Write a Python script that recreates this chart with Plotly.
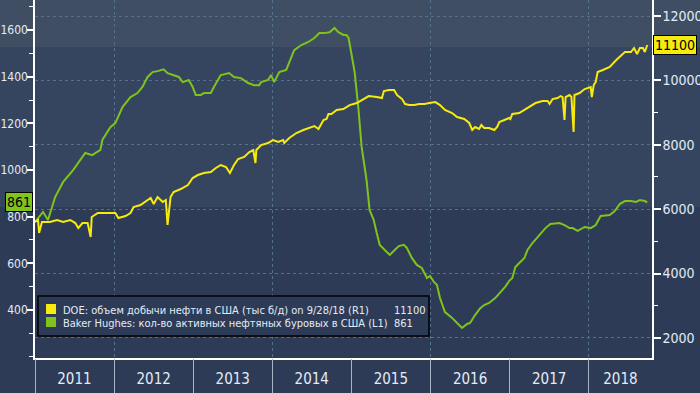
import plotly.graph_objects as go
from datetime import date

# ---------------- data ----------------
doe_name = "DOE: объем добычи нефти в США (тыс б/д) on 9/28/18 (R1)"
bh_name = "Baker Hughes: кол-во активных нефтяных буровых в США (L1)"
doe_last = 11100
bh_last = 861

bh_dates = [
    "2011-01-01", "2011-02-07", "2011-03-02", "2011-04-04", "2011-05-11", "2011-06-26",
    "2011-08-21", "2011-09-22", "2011-10-30", "2011-11-08", "2011-12-15", "2012-01-07",
    "2012-02-09", "2012-03-17", "2012-04-18", "2012-05-11", "2012-06-04", "2012-06-27",
    "2012-07-25", "2012-08-17", "2012-09-04", "2012-10-02", "2012-10-26", "2012-11-13",
    "2012-12-11", "2012-12-29", "2013-01-12", "2013-02-05", "2013-02-19", "2013-03-23",
    "2013-04-06", "2013-05-08", "2013-06-15", "2013-07-08", "2013-08-09", "2013-09-11",
    "2013-10-09", "2013-11-01", "2013-11-10", "2013-12-12", "2013-12-26", "2014-01-09",
    "2014-02-02", "2014-03-06", "2014-03-29", "2014-04-12", "2014-05-15", "2014-06-16",
    "2014-07-14", "2014-08-06", "2014-08-29", "2014-09-22", "2014-10-15", "2014-11-02",
    "2014-11-25", "2014-12-09", "2014-12-19", "2015-01-02", "2015-01-16", "2015-02-03",
    "2015-02-17", "2015-03-03", "2015-03-12", "2015-03-26", "2015-04-14", "2015-04-28",
    "2015-05-12", "2015-06-04", "2015-06-27", "2015-07-20", "2015-08-08", "2015-08-31",
    "2015-09-14", "2015-10-07", "2015-10-30", "2015-11-22", "2015-12-16", "2015-12-30",
    "2016-01-17", "2016-01-31", "2016-02-14", "2016-03-08", "2016-04-10", "2016-05-03",
    "2016-05-26", "2016-06-18", "2016-07-02", "2016-07-25", "2016-08-18", "2016-09-05",
    "2016-09-28", "2016-10-26", "2016-11-18", "2016-12-12", "2016-12-30", "2017-01-13",
    "2017-01-27", "2017-02-14", "2017-03-10", "2017-03-24", "2017-04-16", "2017-05-18",
    "2017-06-15", "2017-07-08", "2017-08-19", "2017-09-11", "2017-10-04", "2017-10-18",
    "2017-11-11", "2017-12-13", "2018-01-10", "2018-02-02", "2018-02-25", "2018-04-08",
    "2018-05-01", "2018-05-24", "2018-06-17", "2018-07-15", "2018-08-07", "2018-08-25",
    "2018-09-17", "2018-09-28",
]
bh_values = [
    777, 820, 786, 884, 949, 1000,
    1073, 1064, 1086, 1129, 1184, 1201,
    1270, 1313, 1330, 1356, 1399, 1420,
    1425, 1432, 1415, 1407, 1399, 1377,
    1386, 1356, 1322, 1322, 1330, 1330,
    1356, 1407, 1416, 1399, 1394, 1373,
    1364, 1364, 1377, 1386, 1407, 1377,
    1420, 1429, 1480, 1514, 1536, 1549,
    1566, 1587, 1587, 1591, 1609, 1591,
    1579, 1579, 1566, 1501, 1420, 1257,
    1100, 1013, 957, 829, 786, 730,
    679, 657, 636, 657, 674, 679,
    666, 623, 593, 580, 537, 546,
    520, 507, 451, 391, 366, 344,
    323, 340, 344, 378, 408, 421,
    430, 451, 473, 500, 525, 537,
    584, 601, 623, 657, 687, 721,
    751, 769, 773, 764, 751, 751,
    739, 756, 751, 764, 803, 807,
    824, 854, 867, 867, 863, 871,
    867, 861,
]

doe_dates = [
    "2011-01-01", "2011-01-15", "2011-01-20", "2011-02-02", "2011-03-11", "2011-04-13",
    "2011-05-11", "2011-06-13", "2011-07-06", "2011-07-20", "2011-08-08", "2011-09-01",
    "2011-09-15", "2011-09-20", "2011-10-18", "2011-11-08", "2011-12-09", "2012-01-07",
    "2012-01-21", "2012-02-23", "2012-03-17", "2012-03-31", "2012-05-02", "2012-05-25",
    "2012-06-18", "2012-07-02", "2012-07-20", "2012-08-13", "2012-08-27", "2012-09-04",
    "2012-09-18", "2012-10-02", "2012-11-04", "2012-12-07", "2012-12-29", "2013-01-22",
    "2013-02-19", "2013-03-23", "2013-04-15", "2013-05-08", "2013-06-01", "2013-06-19",
    "2013-07-08", "2013-07-27", "2013-08-24", "2013-09-17", "2013-10-05", "2013-10-15",
    "2013-10-19", "2013-11-10", "2013-12-12", "2014-01-04", "2014-01-28", "2014-02-20",
    "2014-02-25", "2014-03-20", "2014-04-22", "2014-05-24", "2014-06-16", "2014-07-14",
    "2014-08-02", "2014-08-25", "2014-09-08", "2014-09-17", "2014-10-01", "2014-10-25",
    "2014-11-25", "2014-12-24", "2015-01-26", "2015-02-27", "2015-03-22", "2015-04-28",
    "2015-05-22", "2015-05-31", "2015-06-23", "2015-07-17", "2015-07-31", "2015-08-23",
    "2015-09-06", "2015-09-25", "2015-10-18", "2015-11-10", "2015-12-04", "2015-12-27",
    "2016-01-24", "2016-02-14", "2016-03-08", "2016-04-10", "2016-05-03", "2016-06-05",
    "2016-06-28", "2016-07-12", "2016-07-25", "2016-08-13", "2016-08-23", "2016-09-05",
    "2016-09-28", "2016-10-22", "2016-11-04", "2016-11-14", "2016-12-07", "2016-12-30",
    "2017-01-04", "2017-01-13", "2017-02-14", "2017-03-10", "2017-04-02", "2017-04-30",
    "2017-06-02", "2017-06-25", "2017-07-04", "2017-07-18", "2017-08-10", "2017-08-24",
    "2017-09-02", "2017-09-11", "2017-09-16", "2017-10-04", "2017-10-13", "2017-10-23",
    "2017-10-27", "2017-11-20", "2017-12-13", "2018-01-05", "2018-01-10", "2018-01-15",
    "2018-01-24", "2018-02-02", "2018-02-11", "2018-03-07", "2018-04-08", "2018-05-08",
    "2018-06-17", "2018-07-15", "2018-07-29", "2018-08-12", "2018-08-25", "2018-09-08",
    "2018-09-17", "2018-09-28",
]
doe_values = [
    5602, 5664, 5260, 5602, 5602, 5664,
    5602, 5664, 5570, 5415, 5570, 5570,
    5136, 5757, 5881, 5881, 5881, 5881,
    5726, 5788, 5881, 6068, 6130, 6223,
    6347, 6161, 6378, 6223, 6285, 5509,
    6378, 6533, 6627, 6751, 6968, 7061,
    7124, 7155, 7279, 7372, 7310, 7124,
    7372, 7558, 7621, 7776, 7838, 7434,
    7838, 7993, 8055, 8148, 8086, 8148,
    8055, 8210, 8366, 8459, 8521, 8583,
    8490, 8770, 8800, 8955, 8955, 9080,
    9110, 9234, 9296, 9420, 9514, 9482,
    9451, 9669, 9700, 9700, 9545, 9420,
    9265, 9234, 9234, 9265, 9265, 9296,
    9327, 9234, 9080, 8987, 8863, 8800,
    8677, 8459, 8552, 8490, 8614, 8521,
    8521, 8459, 8552, 8707, 8770, 8832,
    8800, 8956, 8987, 9080, 9172, 9297,
    9358, 9358, 9267, 9420, 9451, 9514,
    9483, 8770, 9483, 9545, 9483, 8397,
    9545, 9607, 9731, 9793, 9793, 9483,
    9855, 9950, 10261, 10323, 10416, 10633,
    10882, 10882, 11006, 10820, 11006, 11006,
    10882, 11100,
]

year_labels = ["2011", "2012", "2013", "2014", "2015", "2016", "2017", "2018"]
left_ticks = [400, 600, 800, 1000, 1200, 1400, 1600]
right_ticks = [2000, 4000, 6000, 8000, 10000, 12000]

# ---------------- styling ----------------
X_START = "2011-01-01"
X_END = "2018-10-20"
LEFT_RANGE = [194, 1729]
RIGHT_RANGE = [1378, 12497]

BG_DARK = "#2d3b57"
BG_MID = "#354560"
BG_TOP = "#3f4e62"
YELLOW = "#f7ea0d"
GREEN = "#7fc31c"
TXT = "#e4ebf5"
GRID = "#56708c"
NARROW = "Liberation Sans Narrow, Arial Narrow, DejaVu Sans Condensed, sans-serif"
LEGFONT = "DejaVu Sans Condensed, Liberation Sans, sans-serif"

fig = go.Figure()
fig.add_trace(go.Scatter(x=bh_dates, y=bh_values, mode="lines", name=bh_name,
                         line=dict(color=GREEN, width=2), yaxis="y", xaxis="x",
                         showlegend=False, hoverinfo="skip"))
fig.add_trace(go.Scatter(x=doe_dates, y=doe_values, mode="lines", name=doe_name,
                         line=dict(color=YELLOW, width=2), yaxis="y2", xaxis="x",
                         showlegend=False, hoverinfo="skip"))
# invisible helpers so the overlay axes (year separators / gridlines) get drawn
for ax in ("x2", "x3"):
    fig.add_trace(go.Scatter(x=[X_START, X_END], y=[LEFT_RANGE[0], LEFT_RANGE[0]],
                             xaxis=ax, yaxis="y", mode="lines", line=dict(width=0),
                             opacity=0, showlegend=False, hoverinfo="skip"))

# year label positions: middle of the visible part of each year
end_d = date.fromisoformat(X_END)
label_pos = []
for y in year_labels:
    a = date(int(y), 1, 1)
    b = min(date(int(y) + 1, 1, 1), end_d)
    label_pos.append((a + (b - a) / 2).isoformat())

common_x = dict(type="date", range=[X_START, X_END], fixedrange=True, automargin=False)
fig.update_layout(
    width=700, height=393,
    margin=dict(l=35, r=48, t=0, b=35, autoexpand=False),
    paper_bgcolor=BG_DARK, plot_bgcolor="rgba(0,0,0,0)",
    showlegend=False,
    xaxis=dict(**common_x, tickvals=label_pos, ticktext=year_labels, ticks="",
               showgrid=False, showline=True, linecolor="#ffffff", linewidth=1.5,
               tickfont=dict(family=NARROW, size=15, color=TXT),
               ticklabelstandoff=6, zeroline=False),
    xaxis2=dict(**common_x, overlaying="x", anchor="y", side="bottom",
                dtick="M12", tick0=X_START, ticks="outside", ticklen=36,
                tickcolor="#a8b3c4", tickwidth=1, showticklabels=False,
                showgrid=False, showline=False, zeroline=False),
    xaxis3=dict(**common_x, overlaying="x", anchor="y", side="bottom",
                dtick="M24", tick0="2012-01-01", ticks="", showticklabels=False,
                showgrid=True, gridcolor=GRID, gridwidth=1, griddash="3px,3px",
                showline=False, zeroline=False),
    yaxis=dict(range=LEFT_RANGE, tickvals=left_ticks, tickformat="d",
               showgrid=False, zeroline=False,
               showline=True, linecolor="#ffffff", linewidth=1.5, automargin=False,
               ticks="outside", ticklen=6, tickwidth=2, tickcolor="#ffffff",
               ticklabelstandoff=-3,
               minor=dict(ticks="outside", ticklen=4, tickcolor="#ffffff", dtick=100, tickwidth=1),
               tickfont=dict(family=NARROW, size=12, color=TXT), fixedrange=True),
    yaxis2=dict(range=RIGHT_RANGE, tickvals=right_ticks, tickformat="d",
                overlaying="y", side="right",
                showgrid=True, gridcolor=GRID, gridwidth=1, griddash="3px,3px",
                zeroline=False, showline=True, linecolor="#ffffff", linewidth=1.5,
                automargin=False,
                ticks="outside", ticklen=7, tickwidth=2, tickcolor="#ffffff",
                ticklabelstandoff=-1,
                minor=dict(ticks="outside", ticklen=4, tickcolor="#ffffff", dtick=1000, tickwidth=1),
                tickfont=dict(family=NARROW, size=14, color=TXT), fixedrange=True),
)

# background bands (paper wide)
H = 358.0
def py(px):
    return 1 - px / H

W = 617.0
def pxp(px):
    return (px - 35) / W

shapes = [
    dict(type="rect", xref="paper", yref="paper", x0=-0.1, x1=1.1, y0=py(47), y1=1.0,
         fillcolor=BG_TOP, line=dict(width=0), layer="below"),
    dict(type="rect", xref="paper", yref="paper", x0=-0.1, x1=1.1, y0=py(207), y1=py(47),
         fillcolor=BG_MID, line=dict(width=0), layer="below"),
    # legend box
    dict(type="rect", xref="paper", yref="paper", x0=pxp(38), x1=pxp(429),
         y0=py(336), y1=py(296), fillcolor=BG_DARK, line=dict(color="#000000", width=1.5),
         layer="above"),
    dict(type="rect", xref="paper", yref="paper", x0=pxp(46), x1=pxp(56),
         y0=py(314), y1=py(304), fillcolor=YELLOW, line=dict(width=0), layer="above"),
    dict(type="rect", xref="paper", yref="paper", x0=pxp(46), x1=pxp(56),
         y0=py(327), y1=py(317), fillcolor=GREEN, line=dict(width=0), layer="above"),
]
fig.update_layout(shapes=shapes)

LEG_SIZE = 11
annotations = [
    dict(xref="paper", yref="paper", x=pxp(61), y=py(310.5), xanchor="left", yanchor="middle",
         text=doe_name, showarrow=False, font=dict(family=LEGFONT, size=LEG_SIZE, color=TXT)),
    dict(xref="paper", yref="paper", x=pxp(61), y=py(323), xanchor="left", yanchor="middle",
         text=bh_name, showarrow=False, font=dict(family=LEGFONT, size=LEG_SIZE, color=TXT)),
    dict(xref="paper", yref="paper", x=pxp(392), y=py(310.5), xanchor="left", yanchor="middle",
         text=str(doe_last), showarrow=False, font=dict(family=LEGFONT, size=LEG_SIZE, color=TXT)),
    dict(xref="paper", yref="paper", x=pxp(392), y=py(323), xanchor="left", yanchor="middle",
         text=str(bh_last), showarrow=False, font=dict(family=LEGFONT, size=LEG_SIZE, color=TXT)),
    # value tags on axes
    dict(xref="paper", yref="y", x=pxp(33), y=bh_last, xanchor="right", yanchor="middle",
         text=str(bh_last), showarrow=False, bgcolor=GREEN, bordercolor="#000000",
         borderwidth=1, borderpad=1, font=dict(family=NARROW, size=14, color="#000000")),
    dict(xref="paper", yref="y2", x=pxp(653), y=doe_last, xanchor="left", yanchor="middle",
         text=str(doe_last), showarrow=False, bgcolor=YELLOW, bordercolor="#000000",
         borderwidth=1, borderpad=1, font=dict(family=NARROW, size=14, color="#000000")),
]
fig.update_layout(annotations=annotations)

fig.write_html("out.html", config={"displayModeBar": False},
               post_script="document.body.style.margin='0';document.body.style.background='%s';" % BG_DARK)
